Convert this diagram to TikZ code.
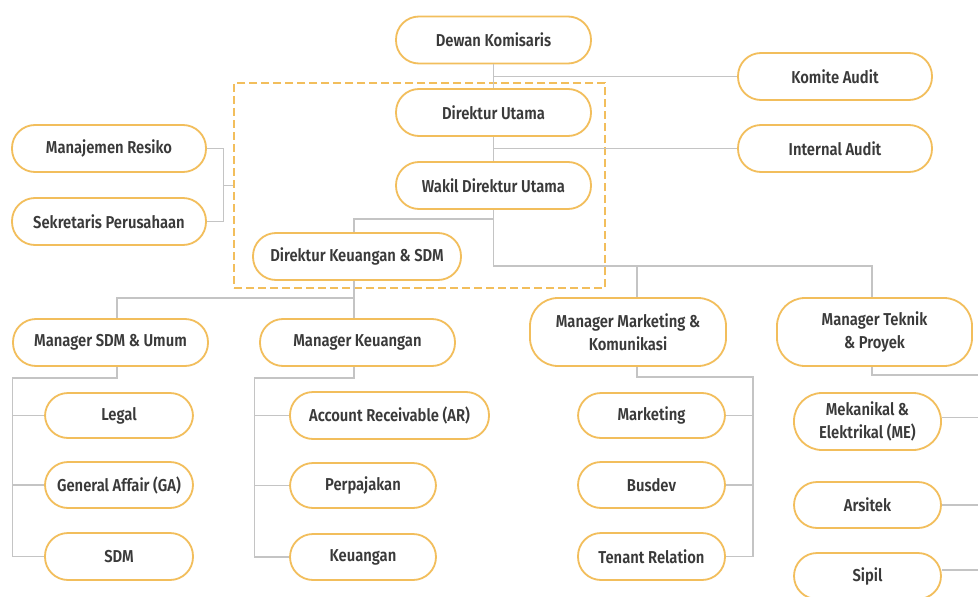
\documentclass[tikz,border=0pt]{standalone}
\usepackage{fontspec}
\setmainfont{Fira Sans}[UprightFont={* SemiBold}, FakeStretch=0.86]
\definecolor{boxc}{HTML}{F2BE5C}
\definecolor{linec}{HTML}{C4C4C4}
\definecolor{txt}{HTML}{3A3A3A}
\tikzset{
  box/.style={draw=boxc, line width=1.8pt, rounded corners=23pt, fill=white,
    align=center, inner sep=0pt, text=txt,
    font=\fontsize{17.2}{23}\selectfont},
  tallbox/.style={box, rounded corners=28pt},
  conn/.style={draw=linec, line width=1.2pt},
  grpbox/.style={draw=boxc, line width=1.8pt, dash pattern=on 8pt off 4pt}
}
\begin{document}
\begin{tikzpicture}[x=1pt,y=-1pt]
\clip (0,0) rectangle (978,597);
\fill[white] (0,0) rectangle (978,597);
% dashed group
\node[grpbox, minimum width=371pt, minimum height=205pt, inner sep=0pt] (grp) at (419.5,185.5) {};
% top level nodes
\node[box, minimum width=195pt, minimum height=47pt] (dk) at (493.5,40) {Dewan Komisaris};
\node[box, minimum width=195pt, minimum height=47pt] (du) at (493.5,112.5) {Direktur Utama};
\node[box, minimum width=195pt, minimum height=47pt] (wdu) at (493.5,185.5) {Wakil Direktur Utama};
\node[box, minimum width=194pt, minimum height=47pt] (ka) at (835,76.5) {Komite Audit};
\node[box, minimum width=194pt, minimum height=47pt] (ia) at (835,148.5) {Internal Audit};
\node[box, minimum width=194pt, minimum height=47pt] (mr) at (109,148.5) {Manajemen Resiko};
\node[box, minimum width=194pt, minimum height=47pt] (sp) at (109,221.5) {Sekretaris Perusahaan};
\node[box, minimum width=208pt, minimum height=47pt] (dkeu) at (357,256.5) {Direktur Keuangan \& SDM};
% managers
\node[box, minimum width=195pt, minimum height=47pt] (msdm) at (110.5,342.5) {Manager SDM \& Umum};
\node[box, minimum width=195pt, minimum height=47pt] (mk) at (357.5,342.5) {Manager Keuangan};
\node[tallbox, minimum width=196pt, minimum height=68pt] (mm) at (628,332) {Manager Marketing \&\\Komunikasi};
\node[tallbox, minimum width=195pt, minimum height=68pt] (mt) at (874.5,332) {Manager Teknik\\\& Proyek};
% children
\node[box, minimum width=148pt, minimum height=45pt] (legal) at (119,415.5) {Legal};
\node[box, minimum width=148pt, minimum height=46pt] (ga) at (119,485) {General Affair (GA)};
\node[box, minimum width=148pt, minimum height=47pt] (sdm) at (119,556.5) {SDM};
\node[box, minimum width=199pt, minimum height=47pt] (ar) at (389.5,415.5) {Account Receivable (AR)};
\node[box, minimum width=146pt, minimum height=45pt] (pp) at (363,485.5) {Perpajakan};
\node[box, minimum width=146pt, minimum height=46pt] (keu) at (363,557) {Keuangan};
\node[box, minimum width=147pt, minimum height=45pt] (mkt) at (651.5,415.5) {Marketing};
\node[box, minimum width=147pt, minimum height=46pt] (bus) at (651.5,485) {Busdev};
\node[box, minimum width=147pt, minimum height=47pt] (tr) at (651.5,556.5) {Tenant Relation};
\node[tallbox, minimum width=147pt, minimum height=57pt] (me) at (867.5,421.5) {Mekanikal \&\\Elektrikal (ME)};
\node[box, minimum width=147pt, minimum height=46pt] (ars) at (867.5,505) {Arsitek};
\node[box, minimum width=147pt, minimum height=46pt] (sip) at (867.5,576) {Sipil};
% bus coordinates
\coordinate (edge) at (990,0);
\coordinate (sideL) at ([xshift=-10pt]grp.west);
\coordinate (busK) at ([xshift=-35pt]keu.west);
\coordinate (busM) at ([xshift=27pt]tr.east);
\coordinate (mtd) at ([xshift=-2.5pt,yshift=-8pt]mt.south);
\coordinate (med) at ([yshift=4pt]me.east);
\coordinate (sipd) at ([yshift=6pt]sip.east);
% connectors
\begin{scope}[conn]
\draw (dk.south) -- (du.north);
\draw (du.south) -- (wdu.north);
\draw (ka.west) -- (ka.west -| dk.south);
\draw (ia.west) -- (ia.west -| du.south);
\draw (mr.east) -| (sideL) |- (sp.east);
\draw (grp.west) -- (sideL);
\draw (wdu.south) -- ([yshift=-9pt]wdu.south) -| ([xshift=-3pt]dkeu.north);
\draw (wdu.south) -- ([yshift=-56pt]wdu.south) -| ([xshift=-2.5pt]mt.north);
\draw ([xshift=9pt]mm.north) -- ++(0,-32);
\draw ([xshift=-3pt]dkeu.south) -- ++(0,17) -| ([xshift=6.5pt]msdm.north);
\draw ([xshift=-3pt]dkeu.south) -- ([xshift=-3pt]dkeu.south |- mk.north);
% SDM branch
\draw ([xshift=6.5pt]msdm.south) -- ++(0,11) -| (msdm.west |- sdm.west) -- (sdm.west);
\draw (legal.west) -- (legal.west -| msdm.west);
\draw (ga.west) -- (ga.west -| msdm.west);
% Keuangan branch
\draw ([xshift=-3.5pt]mk.south) -- ++(0,11) -| (busK |- keu.west) -- (keu.west);
\draw (ar.west) -- (ar.west -| busK);
\draw (pp.west) -- (pp.west -| busK);
% Marketing branch
\draw ([xshift=9pt]mm.south) -- ++(0,10) -| (busM |- tr.east) -- (tr.east);
\draw (mkt.east) -- (mkt.east -| busM);
\draw (bus.east) -- (bus.east -| busM);
% Teknik branch
\draw ([xshift=-2.5pt]mt.south) -- (mtd) -- (mtd -| edge);
\draw (med) -- (med -| edge);
\draw (ars.east) -- (ars.east -| edge);
\draw (sipd) -- (sipd -| edge);
\end{scope}
\end{tikzpicture}
\end{document}
